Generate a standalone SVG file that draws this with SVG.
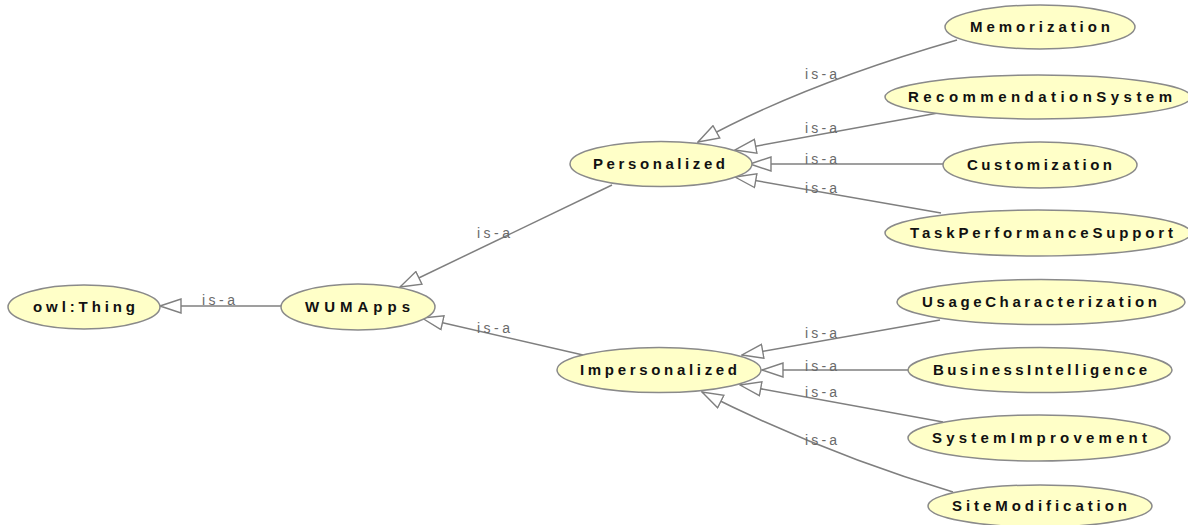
<svg xmlns="http://www.w3.org/2000/svg" width="1188" height="525" viewBox="0 0 1188 525">
<style>
.node ellipse{fill:#ffffc8;stroke:#8a8a8a;stroke-width:1.5}
.node text{font-family:"Liberation Sans",Arial,sans-serif;font-weight:bold;font-size:15px;fill:#111;text-anchor:middle}
.edge{fill:none;stroke:#7f7f7f;stroke-width:1.5;marker-end:url(#tri)}
.lbl{font-family:"Liberation Sans",Arial,sans-serif;font-size:14px;fill:#6a6a6a}
</style>
<defs>
<marker id="tri" viewBox="-1 -1 23 16" refX="21" refY="7" markerWidth="23" markerHeight="16" markerUnits="userSpaceOnUse" orient="auto">
<path d="M21,7 L0,0 L0,14 Z" fill="#ffffff" stroke="#7f7f7f" stroke-width="1.4"/>
</marker>
</defs>
<rect width="1188" height="525" fill="#ffffff"/>
<g id="connectors">
<path class="edge" d="M282,306 L160,306"/>
<path class="edge" d="M612,185 L400,287"/>
<path class="edge" d="M583,355 L422,318"/>
<path class="edge" d="M957,40 Q801,85 698,142"/>
<path class="edge" d="M938,113 L735,150"/>
<path class="edge" d="M943,164 L750,164"/>
<path class="edge" d="M941,213 L735,177"/>
<path class="edge" d="M940,320 L742,355"/>
<path class="edge" d="M910,370 L762,370"/>
<path class="edge" d="M943,422 L740,385"/>
<path class="edge" d="M953,492 Q825,454 702,392"/>
<text class="lbl" x="202" y="305" textLength="33" lengthAdjust="spacing">is-a</text>
<text class="lbl" x="477" y="238" textLength="33" lengthAdjust="spacing">is-a</text>
<text class="lbl" x="477" y="333" textLength="33" lengthAdjust="spacing">is-a</text>
<text class="lbl" x="805" y="79" textLength="32" lengthAdjust="spacing">is-a</text>
<text class="lbl" x="805" y="133" textLength="32" lengthAdjust="spacing">is-a</text>
<text class="lbl" x="805" y="164" textLength="32" lengthAdjust="spacing">is-a</text>
<text class="lbl" x="805" y="193" textLength="32" lengthAdjust="spacing">is-a</text>
<text class="lbl" x="805" y="338" textLength="32" lengthAdjust="spacing">is-a</text>
<text class="lbl" x="805" y="371" textLength="32" lengthAdjust="spacing">is-a</text>
<text class="lbl" x="805" y="397" textLength="32" lengthAdjust="spacing">is-a</text>
<text class="lbl" x="805" y="445" textLength="32" lengthAdjust="spacing">is-a</text>
</g>
<g id="owlThing" class="node"><ellipse cx="84" cy="307" rx="76" ry="22"/><text x="84" y="312" textLength="102" lengthAdjust="spacing">owl:Thing</text></g>
<g id="WUMApps" class="node"><ellipse cx="358" cy="307" rx="77" ry="23"/><text x="357.5" y="312" textLength="105" lengthAdjust="spacing">WUMApps</text></g>
<g id="Personalized" class="node"><ellipse cx="661" cy="164" rx="91" ry="22.5"/><text x="659" y="169" textLength="132" lengthAdjust="spacing">Personalized</text></g>
<g id="Impersonalized" class="node"><ellipse cx="659" cy="370" rx="102" ry="22.5"/><text x="658.5" y="375" textLength="157" lengthAdjust="spacing">Impersonalized</text></g>
<g id="Memorization" class="node"><ellipse cx="1040" cy="27" rx="95" ry="22"/><text x="1040" y="32" textLength="140" lengthAdjust="spacing">Memorization</text></g>
<g id="RecommendationSystem" class="node"><ellipse cx="1038" cy="97" rx="153" ry="22"/><text x="1040" y="102" textLength="264" lengthAdjust="spacing">RecommendationSystem</text></g>
<g id="Customization" class="node"><ellipse cx="1040" cy="165" rx="97" ry="23"/><text x="1039.5" y="170" textLength="145" lengthAdjust="spacing">Customization</text></g>
<g id="TaskPerformanceSupport" class="node"><ellipse cx="1038" cy="233" rx="153" ry="23"/><text x="1041.5" y="238" textLength="263" lengthAdjust="spacing">TaskPerformanceSupport</text></g>
<g id="UsageCharacterization" class="node"><ellipse cx="1041" cy="302" rx="144" ry="22.5"/><text x="1039.5" y="307" textLength="235" lengthAdjust="spacing">UsageCharacterization</text></g>
<g id="BusinessIntelligence" class="node"><ellipse cx="1040" cy="370" rx="132" ry="22.5"/><text x="1040" y="375" textLength="214" lengthAdjust="spacing">BusinessIntelligence</text></g>
<g id="SystemImprovement" class="node"><ellipse cx="1039" cy="438" rx="131" ry="23"/><text x="1039.5" y="443" textLength="215" lengthAdjust="spacing">SystemImprovement</text></g>
<g id="SiteModification" class="node"><ellipse cx="1040" cy="506" rx="112" ry="21"/><text x="1039.5" y="511" textLength="175" lengthAdjust="spacing">SiteModification</text></g>
</svg>
